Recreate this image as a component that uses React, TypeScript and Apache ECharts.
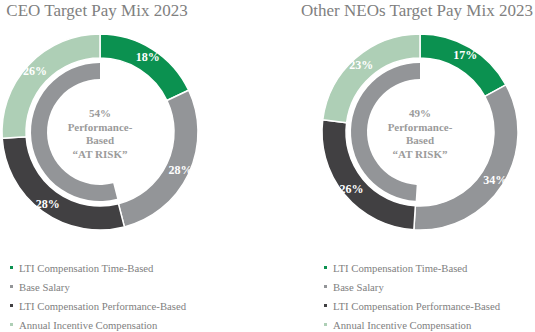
import React, { useEffect, useRef } from "react";
import * as echarts from "echarts";

const categories = [
  "LTI Compensation Time-Based",
  "Base Salary",
  "LTI Compensation Performance-Based",
  "Annual Incentive Compensation",
];
const colors = ["#0b9150", "#939598", "#414042", "#aecfb6"];
const ceoValues = [18, 28, 28, 26];
const neoValues = [17, 34, 26, 23];
const ceoAtRisk = 54;
const neoAtRisk = 49;
const titles = ["CEO Target Pay Mix 2023", "Other NEOs Target Pay Mix 2023"];

const FONT = "'Times New Roman', 'Liberation Serif', serif";

export default function App() {
  const ref = useRef<HTMLDivElement>(null);
  useEffect(() => {
    if (!ref.current) return;
    const chart = echarts.init(ref.current, null, { renderer: "svg" });
    const centers = [
      [100, 132],
      [420, 132],
    ];
    const sets = [
      { values: ceoValues, risk: ceoAtRisk },
      { values: neoValues, risk: neoAtRisk },
    ];
    const series: any[] = [];
    sets.forEach((s, i) => {
      series.push({
        type: "pie",
        center: centers[i],
        radius: [74, 98],
        startAngle: 90,
        clockwise: true,
        silent: true,
        itemStyle: { borderColor: "#ffffff", borderWidth: 1.5 },
        label: {
          show: true,
          position: "inside",
          formatter: "{c}%",
          color: "#ffffff",
          fontFamily: FONT,
          fontWeight: "bold",
          fontSize: 12,
        },
        labelLine: { show: false },
        data: categories.map((c, k) => ({
          name: c,
          value: s.values[k],
          itemStyle: { color: colors[k] },
        })),
      });
      series.push({
        type: "pie",
        center: centers[i],
        radius: [53, 69],
        startAngle: 90,
        clockwise: false,
        silent: true,
        label: { show: false },
        labelLine: { show: false },
        data: [
          { name: "At Risk", value: s.risk, itemStyle: { color: "#939598" } },
          { name: "Other", value: 100 - s.risk, itemStyle: { color: "transparent" } },
        ],
      });
    });
    const legendCommon = {
      orient: "vertical",
      top: 262,
      padding: 0,
      itemWidth: 5,
      itemHeight: 5,
      itemGap: 8,
      icon: "rect",
      selectedMode: false,
      textStyle: { color: "#7f7f7f", fontFamily: FONT, fontSize: 10.7, lineHeight: 11 },
      data: categories,
    };
    chart.setOption({
      animation: false,
      legend: [
        { ...legendCommon, left: 8 },
        { ...legendCommon, left: 322 },
      ],
      graphic: [
        ...titles.map((t, i) => ({
          type: "text",
          x: i === 0 ? 97 : 417,
          y: 2,
          style: {
            text: t,
            fill: "#808080",
            fontFamily: FONT,
            fontSize: 17,
            textAlign: "center",
            textVerticalAlign: "top",
          },
        })),
        ...sets.map((s, i) => ({
          type: "text",
          x: centers[i][0],
          y: centers[i][1] + 1.5,
          style: {
            text: `${s.risk}%\nPerformance-\nBased\n\u201CAT RISK\u201D`,
            fill: "#9b9b9b",
            fontFamily: FONT,
            fontWeight: "bold",
            fontSize: 11,
            lineHeight: 13.5,
            textAlign: "center",
            textVerticalAlign: "middle",
          },
        })),
      ],
      series,
    });
    return () => chart.dispose();
  }, []);
  return (
    <div
      ref={ref}
      style={{ position: "fixed", left: 0, top: 0, width: 535, height: 332, background: "#fff" }}
    />
  );
}
